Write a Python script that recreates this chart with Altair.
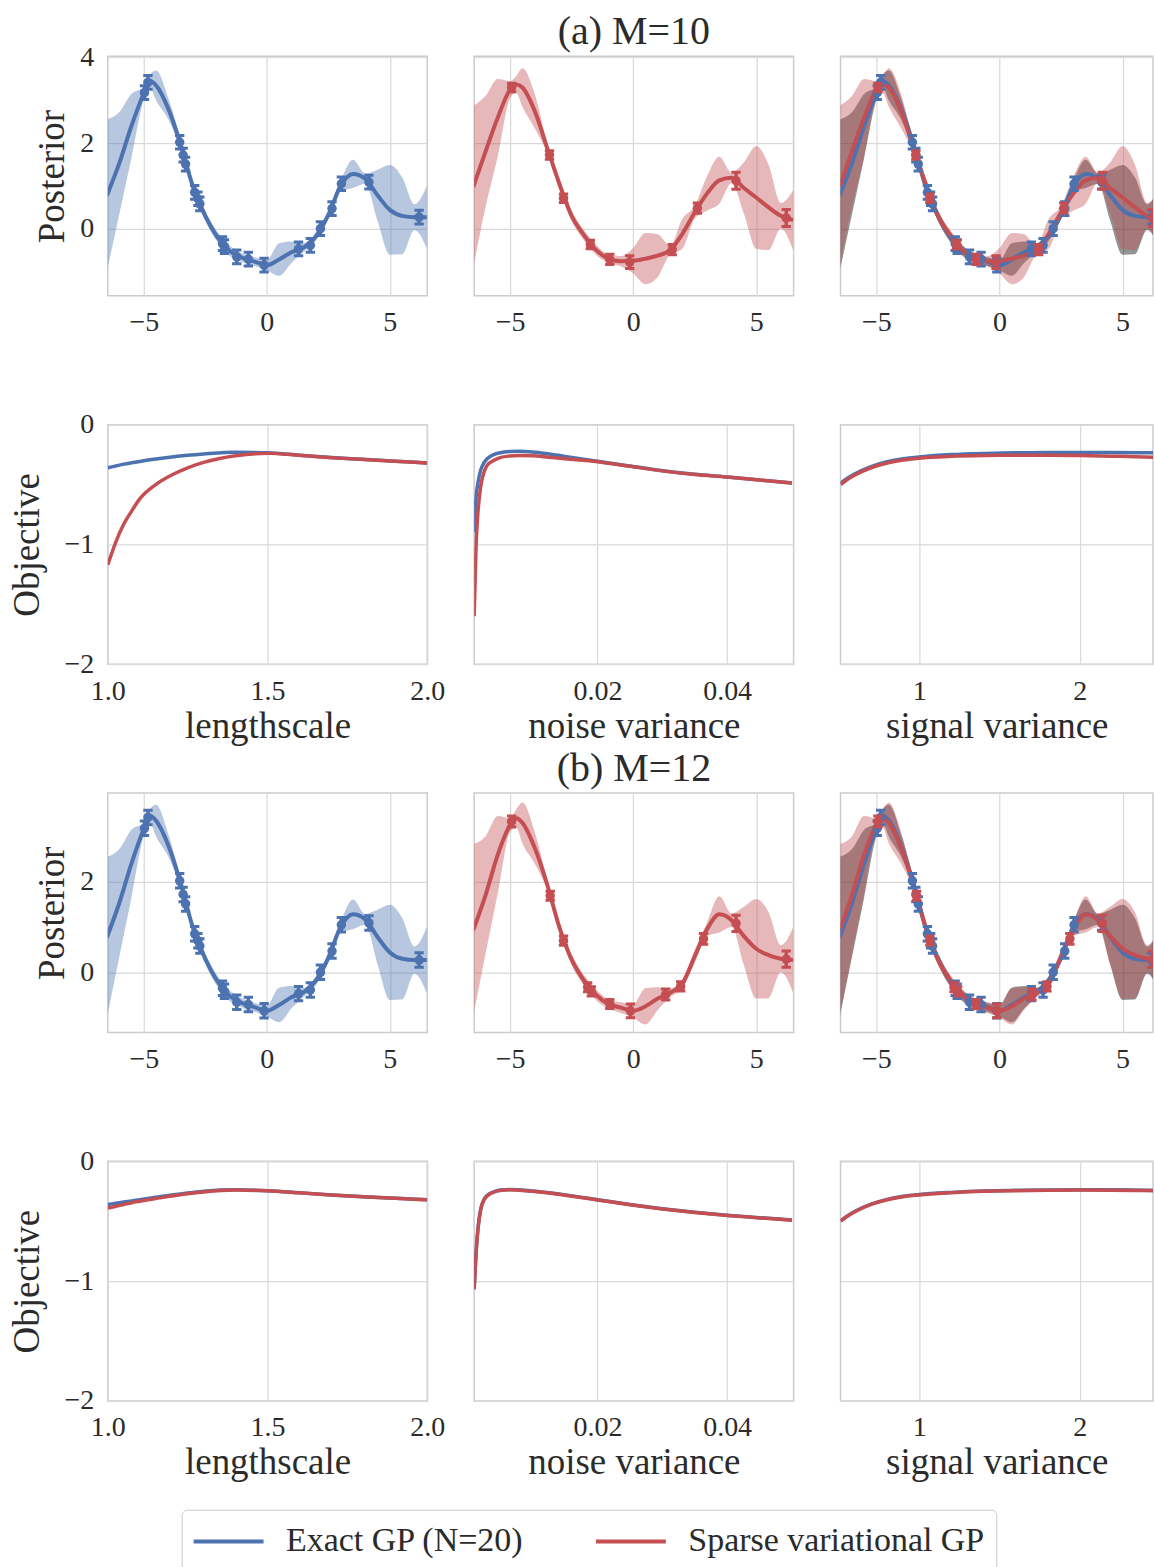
import altair as alt
import pandas as pd

FONT = "Liberation Serif"
BLUE = "#4C72B0"
RED = "#C44E52"
TXT = "#2b2b2b"
EXACT = "Exact GP (N=20)"
SPARSE = "Sparse variational GP"

# ---------------- posterior curves (shared x grid) ----------------
POST_X = [-6.5, -6.0, -5.5, -5.0, -4.75, -4.5, -4.0, -3.5, -3.0, -2.5, -2.0, -1.5, -1.0, -0.5,
          0.0, 0.5, 1.0, 1.5, 2.0, 2.5, 3.0, 3.5, 4.0, 4.5, 5.0, 5.5, 6.0, 6.5]
EXACT_MEAN = [0.77, 1.52, 2.4, 3.16, 3.45, 3.35, 2.8, 1.97, 0.98, 0.3, -0.2, -0.52, -0.68, -0.77,
              -0.85, -0.72, -0.55, -0.44, -0.18, 0.32, 1.0, 1.28, 1.17, 0.78, 0.44, 0.3, 0.27, 0.27]
EXACT_W = [1.78, 1.2, 0.75, 0.15, 0.15, 0.35, 0.25, 0.12, 0.1, 0.12, 0.12, 0.12, 0.1, 0.1,
           0.12, 0.38, 0.25, 0.1, 0.1, 0.1, 0.12, 0.33, 0.12, 0.6, 1.05, 0.9, 0.3, 0.73]
SPARSE10_MEAN = [0.97, 1.8, 2.6, 3.25, 3.37, 3.3, 2.75, 1.9, 1.05, 0.3, -0.15, -0.5, -0.7, -0.76,
                 -0.75, -0.7, -0.63, -0.5, -0.12, 0.38, 0.82, 1.13, 1.19, 0.95, 0.73, 0.5, 0.3, 0.2]
SPARSE10_W = [1.9, 1.3, 0.9, 0.2, 0.2, 0.45, 0.4, 0.12, 0.12, 0.12, 0.12, 0.12, 0.1, 0.12,
              0.3, 0.6, 0.5, 0.1, 0.35, 0.15, 0.4, 0.55, 0.12, 0.6, 1.2, 1.0, 0.3, 0.7]
SPARSE12_MEAN = [0.93, 1.7, 2.6, 3.25, 3.4, 3.3, 2.75, 1.95, 1.0, 0.28, -0.18, -0.5, -0.7, -0.78,
                 -0.85, -0.75, -0.58, -0.45, -0.25, 0.35, 0.95, 1.28, 1.15, 0.8, 0.52, 0.38, 0.3, 0.27]
SPARSE12_W = [1.9, 1.3, 0.85, 0.15, 0.2, 0.45, 0.35, 0.12, 0.1, 0.12, 0.12, 0.12, 0.1, 0.12,
              0.15, 0.4, 0.25, 0.1, 0.1, 0.15, 0.15, 0.4, 0.15, 0.65, 1.1, 0.95, 0.3, 0.72]

# observations (N=20) and inducing points
DATA_X = [-4.97, -4.83, -3.54, -3.40, -3.30, -2.93, -2.80, -2.72, -1.80, -1.72,
          -1.22, -0.75, -0.11, 1.29, 1.77, 2.18, 2.65, 3.03, 4.15, 6.19]
DATA_Y = [3.18, 3.42, 2.02, 1.72, 1.51, 0.85, 0.70, 0.58, -0.35, -0.42,
          -0.66, -0.71, -0.85, -0.47, -0.39, 0.0, 0.47, 1.05, 1.09, 0.27]
DATA_SD = [0.16, 0.16, 0.16, 0.16, 0.16, 0.16, 0.16, 0.16, 0.16, 0.16,
           0.16, 0.16, 0.16, 0.16, 0.16, 0.16, 0.16, 0.16, 0.16, 0.16]
Z10_X = [-4.94, -3.40, -2.83, -1.74, -0.95, -0.14, 1.59, 2.61, 4.18, 6.22]
Z10_Y = [3.30, 1.72, 0.71, -0.37, -0.72, -0.78, -0.49, 0.48, 1.12, 0.25]
Z10_SD = [0.1, 0.1, 0.1, 0.1, 0.12, 0.15, 0.12, 0.12, 0.2, 0.2]
Z12_X = [-4.94, -3.37, -2.83, -1.85, -1.70, -0.95, -0.11, 1.32, 1.93, 2.86, 4.18, 6.22]
Z12_Y = [3.33, 1.69, 0.70, -0.33, -0.42, -0.70, -0.85, -0.49, -0.31, 0.74, 1.08, 0.29]
Z12_SD = [0.12, 0.1, 0.1, 0.1, 0.1, 0.1, 0.15, 0.12, 0.1, 0.12, 0.18, 0.18]

# ---------------- objective curves ----------------
LS_X = [1.0, 1.025, 1.05, 1.075, 1.1, 1.15, 1.2, 1.25, 1.3, 1.4, 1.5, 1.6, 1.7, 1.8, 1.9, 2.0]
LS_EXACT_10 = [-0.36, -0.345, -0.33, -0.318, -0.307, -0.287, -0.27, -0.256, -0.245, -0.23,
               -0.235, -0.255, -0.275, -0.29, -0.305, -0.32]
LS_SPARSE_10 = [-1.17, -0.98, -0.83, -0.72, -0.62, -0.5, -0.42, -0.36, -0.315, -0.26,
                -0.24, -0.256, -0.276, -0.291, -0.306, -0.32]
LS_EXACT_12 = [-0.36, -0.35, -0.34, -0.33, -0.32, -0.30, -0.28, -0.265, -0.25, -0.238,
               -0.245, -0.262, -0.28, -0.295, -0.308, -0.32]
LS_SPARSE_12 = [-0.39, -0.375, -0.36, -0.345, -0.333, -0.31, -0.29, -0.27, -0.255, -0.24,
                -0.246, -0.263, -0.281, -0.296, -0.309, -0.321]

NV_X = [0.001, 0.0013, 0.0016, 0.002, 0.0025, 0.003, 0.004, 0.005, 0.0065, 0.008, 0.01,
        0.0125, 0.015, 0.02, 0.025, 0.03, 0.035, 0.04, 0.045, 0.05]
NV_EXACT_10 = [-0.9, -0.6, -0.48, -0.38, -0.32, -0.285, -0.25, -0.235, -0.225, -0.222, -0.228,
               -0.245, -0.265, -0.305, -0.345, -0.385, -0.415, -0.437, -0.462, -0.487]
NV_SPARSE_10 = [-1.6, -1.0, -0.72, -0.52, -0.4, -0.34, -0.3, -0.275, -0.262, -0.258, -0.26,
                -0.272, -0.285, -0.31, -0.348, -0.386, -0.416, -0.438, -0.463, -0.488]
NV_EXACT_12 = [-1.06, -0.75, -0.55, -0.4, -0.32, -0.285, -0.255, -0.24, -0.235, -0.238, -0.247,
               -0.262, -0.28, -0.32, -0.36, -0.395, -0.425, -0.45, -0.47, -0.49]
NV_SPARSE_12 = [-1.07, -0.76, -0.56, -0.405, -0.325, -0.29, -0.258, -0.243, -0.238, -0.241, -0.25,
                -0.265, -0.283, -0.322, -0.362, -0.397, -0.427, -0.452, -0.472, -0.492]

SV_X = [0.51, 0.55, 0.6, 0.7, 0.8, 0.9, 1.0, 1.2, 1.4, 1.6, 1.8, 2.0, 2.2, 2.4, 2.5]
SV_EXACT_10 = [-0.49, -0.45, -0.41, -0.35, -0.31, -0.285, -0.27, -0.25, -0.24, -0.235, -0.232,
               -0.232, -0.233, -0.235, -0.236]
SV_SPARSE_10 = [-0.5, -0.46, -0.42, -0.36, -0.32, -0.295, -0.28, -0.265, -0.258, -0.256, -0.256,
                -0.258, -0.263, -0.27, -0.275]
SV_EXACT_12 = [-0.497, -0.457, -0.417, -0.357, -0.317, -0.292, -0.277, -0.259, -0.247, -0.242,
               -0.239, -0.237, -0.238, -0.241, -0.243]
SV_SPARSE_12 = [-0.5, -0.46, -0.42, -0.36, -0.32, -0.295, -0.28, -0.262, -0.25, -0.245, -0.242,
                -0.24, -0.241, -0.244, -0.246]

H = 240
WIDTHS = [320, 320, 313]           # last column is cut by the page edge
XD_POST = [[-6.46, 6.52], [-6.46, 6.52], [-6.46, 6.237]]
YD_POST = {"a": [-1.57, 4.03], "b": [-1.33, 3.96]}
YV_POST = {"a": [0, 2, 4], "b": [0, 2]}
OBJ_TICKS = [-2, -1, 0]

LEGEND = alt.Legend(title=None, orient="none", legendX=74, legendY=1456, direction="horizontal",
                    symbolType="M-2,0H2", symbolSize=1225, symbolStrokeWidth=4, symbolOffset=15.5,
                    labelFont=FONT, labelFontSize=34, labelColor=TXT, labelOffset=38,
                    labelLimit=0, columnPadding=64, padding=12, strokeColor="#cccccc",
                    cornerRadius=5, fillColor="white")
COLOR = alt.Color("series:N", scale=alt.Scale(domain=[EXACT, SPARSE], range=[BLUE, RED]),
                  legend=LEGEND)

XLP, YLP = 13, 14


def band_df(mean, w):
    return pd.DataFrame({"x": POST_X,
                         "lo": [m - s for m, s in zip(mean, w)],
                         "hi": [m + s for m, s in zip(mean, w)]})


def line_df(xs, ys, series):
    return pd.DataFrame({"x": xs, "y": ys, "series": [series] * len(xs)})


def pts_df(xs, ys, sds):
    return pd.DataFrame({"x": xs, "y": ys,
                         "lo": [y - s for y, s in zip(ys, sds)],
                         "hi": [y + s for y, s in zip(ys, sds)],
                         "xl": [x - 0.19 for x in xs],
                         "xr": [x + 0.19 for x in xs]})


def posterior_panel(kind, row, col, title=None):
    xs = alt.Scale(domain=XD_POST[col], nice=False, zero=False)
    ys = alt.Scale(domain=YD_POST[row], nice=False, zero=False)
    xax = alt.Axis(values=[-5, 0, 5], title=None, labelPadding=XLP)
    if col == 0:
        yax = alt.Axis(values=YV_POST[row], title="Posterior", labelPadding=YLP, titlePadding=8)
    else:
        yax = alt.Axis(values=YV_POST[row], title=None, labels=False)

    def X(f):
        return alt.X(f"{f}:Q", scale=xs, axis=xax)

    def Y(f):
        return alt.Y(f"{f}:Q", scale=ys, axis=yax)

    smean = SPARSE10_MEAN if row == "a" else SPARSE12_MEAN
    sw = SPARSE10_W if row == "a" else SPARSE12_W
    zx = Z10_X if row == "a" else Z12_X
    zy = Z10_Y if row == "a" else Z12_Y
    zs = Z10_SD if row == "a" else Z12_SD

    def band(mean, w, color, opacity):
        return alt.Chart(band_df(mean, w)).mark_area(
            color=color, opacity=opacity, interpolate="monotone", clip=True
        ).encode(x=X("x"), y=Y("lo"), y2=alt.Y2("hi"))

    def line(mean, series):
        return alt.Chart(line_df(POST_X, mean, series)).mark_line(
            strokeWidth=4, interpolate="monotone", clip=True
        ).encode(x=X("x"), y=Y("y"), color=COLOR)

    def points(xs_, ys_, sds, color):
        d = pts_df(xs_, ys_, sds)
        base = alt.Chart(d)
        return [
            base.mark_rule(color=color, strokeWidth=3.5, clip=True).encode(x=X("x"), y=Y("lo"), y2=alt.Y2("hi")),
            base.mark_rule(color=color, strokeWidth=3, clip=True).encode(x=X("xl"), x2=alt.X2("xr"), y=Y("hi")),
            base.mark_rule(color=color, strokeWidth=3, clip=True).encode(x=X("xl"), x2=alt.X2("xr"), y=Y("lo")),
            base.mark_circle(color=color, size=90, opacity=1, clip=True).encode(x=X("x"), y=Y("y")),
        ]

    layers = []
    if kind == "exact":
        layers += [band(EXACT_MEAN, EXACT_W, BLUE, 0.4), line(EXACT_MEAN, EXACT)]
        layers += points(DATA_X, DATA_Y, DATA_SD, BLUE)
    elif kind == "sparse":
        layers += [band(smean, sw, RED, 0.4), line(smean, SPARSE)]
        layers += points(zx, zy, zs, RED)
    else:
        layers += [band(EXACT_MEAN, EXACT_W, "#000000", 0.42), band(smean, sw, RED, 0.4),
                   line(EXACT_MEAN, EXACT), line(smean, SPARSE)]
        layers += points(DATA_X, DATA_Y, DATA_SD, BLUE)
        layers += points(zx, zy, zs, RED)
    props = dict(width=WIDTHS[col], height=H)
    if title:
        props["title"] = alt.TitleParams(title, fontSize=40, font=FONT, fontWeight="normal",
                                         color=TXT, anchor="middle", offset=4)
    return alt.layer(*layers).properties(**props)


def objective_panel(col, xs_vals, exact, sparse):
    if col == 0:
        xd, xv, fmt, xt = [1.0, 2.0], [1.0, 1.5, 2.0], ".1f", "lengthscale"
    elif col == 1:
        xd, xv, fmt, xt = [0.001, 0.05025], [0.02, 0.04], ".2f", "noise variance"
    else:
        xd, xv, fmt, xt = [0.51, 2.4565], [1, 2], "d", "signal variance"
    xs = alt.Scale(domain=xd, nice=False, zero=False)
    ys = alt.Scale(domain=[-2, 0], nice=False, zero=False)
    xax = alt.Axis(values=xv, format=fmt, title=xt, labelPadding=XLP, titlePadding=3)
    if col == 0:
        yax = alt.Axis(values=OBJ_TICKS, title="Objective", labelPadding=YLP,
                       titlePadding=18, labelOverlap=False,
                       labelExpr="datum.value < 0 ? '\u2212' + format(-datum.value, '.0f') : format(datum.value, '.0f')")
    else:
        yax = alt.Axis(values=OBJ_TICKS, title=None, labels=False)
    df = pd.concat([line_df(xs_vals, exact, EXACT), line_df(xs_vals, sparse, SPARSE)])
    return alt.Chart(df).mark_line(strokeWidth=3.5, interpolate="monotone", clip=True).encode(
        x=alt.X("x:Q", scale=xs, axis=xax),
        y=alt.Y("y:Q", scale=ys, axis=yax),
        color=COLOR,
    ).properties(width=WIDTHS[col], height=H)


panels = [
    posterior_panel("exact", "a", 0), posterior_panel("sparse", "a", 1, "(a) M=10"),
    posterior_panel("both", "a", 2),
    objective_panel(0, LS_X, LS_EXACT_10, LS_SPARSE_10),
    objective_panel(1, NV_X, NV_EXACT_10, NV_SPARSE_10),
    objective_panel(2, SV_X, SV_EXACT_10, SV_SPARSE_10),
    posterior_panel("exact", "b", 0), posterior_panel("sparse", "b", 1, "(b) M=12"),
    posterior_panel("both", "b", 2),
    objective_panel(0, LS_X, LS_EXACT_12, LS_SPARSE_12),
    objective_panel(1, NV_X, NV_EXACT_12, NV_SPARSE_12),
    objective_panel(2, SV_X, SV_EXACT_12, SV_SPARSE_12),
]

chart = alt.concat(*panels, columns=3, spacing={"row": 129, "column": 47}, bounds="flush").resolve_scale(
    color="shared"
).properties(
    padding={"left": 7, "top": 10, "right": 0, "bottom": 0},
    background="white",
).configure_view(
    stroke="#cccccc", strokeWidth=1.5
).configure_axis(
    grid=True, gridColor="#d9d9d9", gridWidth=1.2, domain=False, ticks=False,
    labelFont=FONT, titleFont=FONT, labelFontSize=28, titleFontSize=37,
    labelColor=TXT, titleColor=TXT, titleFontWeight="normal", labelFlush=False,
    labelOverlap=False,
)

chart.save("out.html", embed_options={"renderer": "svg", "actions": False})
